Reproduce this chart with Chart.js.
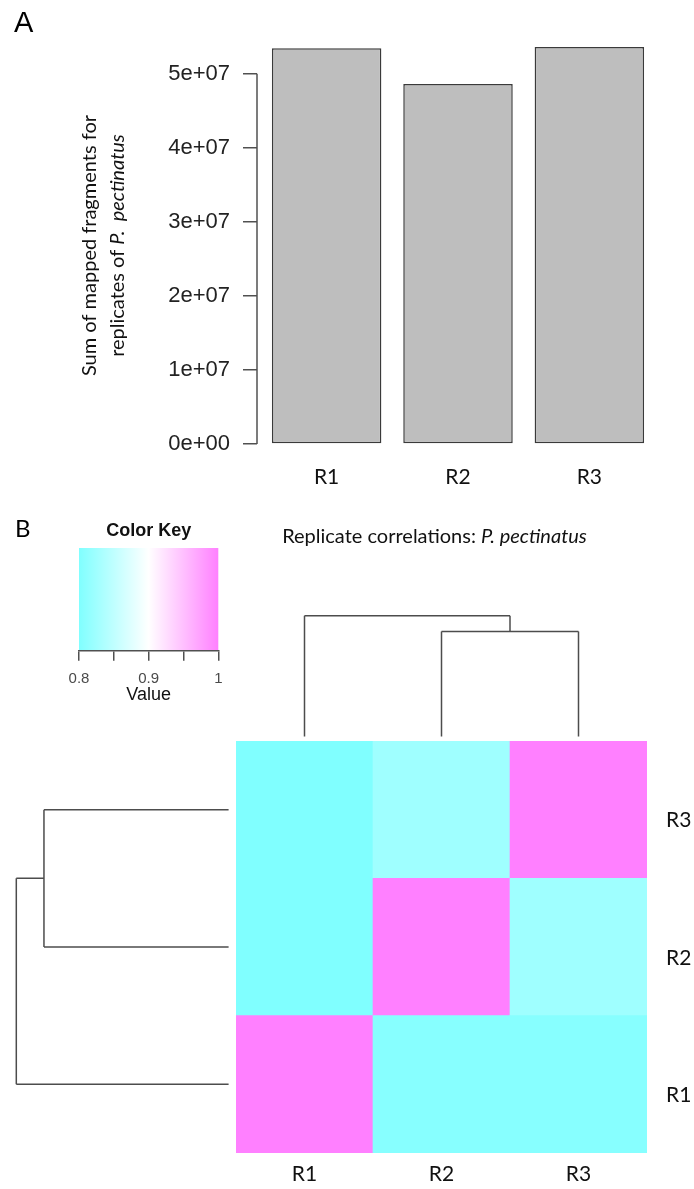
<!DOCTYPE html>
<html>
<head>
<meta charset="utf-8">
<script src="https://cdn.jsdelivr.net/npm/chart.js@4.4.1/dist/chart.umd.min.js"></script>
<style>
  html, body { margin: 0; padding: 0; background: #fff; }
  body { width: 694px; height: 1189px; position: relative; overflow: hidden; }
  canvas { position: absolute; }
  #bar-chart { left: 0; top: 0; }
  #heat-chart { left: 0; top: 500px; }
  #key-chart { left: 48px; top: 500px; }
</style>
</head>
<body>
<canvas id="bar-chart" width="694" height="500"></canvas>
<canvas id="heat-chart" width="694" height="689"></canvas>
<canvas id="key-chart" width="201" height="206"></canvas>
<script>
// ---- data ----
const replicates = ['R1', 'R2', 'R3'];
const fragments = [5.344e7, 4.862e7, 5.362e7];
const fragTicks = [0, 1e7, 2e7, 3e7, 4e7, 5e7];

// correlation cells, one array per heatmap row (bottom row first), columns R1..R3
const corrR1 = [1.000, 0.806, 0.806];
const corrR2 = [0.800, 1.000, 0.825];
const corrR3 = [0.800, 0.825, 1.000];

const keyMin = 0.8, keyMax = 1;
const keyTicks = [0.8, 0.85, 0.9, 0.95, 1];
const keyLabels = ['0.8', '', '0.9', '', '1'];

// clustering (same tree for rows and columns)
const merges = [
  { a: ['R2'], b: ['R3'], height: 0.247 },
  { a: ['R1'], b: ['R2', 'R3'], height: 0.284 },
];

const yTitleLines = [
  [{ text: 'Sum of mapped fragments for' }],
  [{ text: 'replicates of ' }, { text: 'P.  pectinatus', italic: true }],
];
const heatTitle = [{ text: 'Replicate correlations: ' }, { text: 'P. pectinatus', italic: true }];

// ---- helpers ----
const ARIAL = '"Liberation Sans", Arial, sans-serif';
const CALIBRI = 'Lato, "Open Sans", sans-serif';
const INK = '#111';
const AXIS = '#505050';

const eFmt = (v) => Number(v).toExponential(0).replace(/e([+-])(\d)$/, 'e$10$2');

function cmColor(v) {
  // R's cm.colors: cyan (s=.5) -> white -> magenta (s=.5)
  const t = Math.min(1, Math.max(0, (v - keyMin) / (keyMax - keyMin)));
  if (t < 0.5) {
    const s = 0.5 * (1 - 2 * t);
    return `rgb(${Math.round(255 * (1 - s))},255,255)`;
  }
  const s = 0.5 * (2 * t - 1);
  return `rgb(255,${Math.round(255 * (1 - s))},255)`;
}

function drawRich(ctx, parts, size, family) {
  const fonts = parts.map((p) => `${p.italic ? 'italic ' : ''}${size}px ${family}`);
  const widths = parts.map((p, i) => { ctx.font = fonts[i]; return ctx.measureText(p.text).width; });
  let x = -widths.reduce((a, b) => a + b, 0) / 2;
  ctx.textBaseline = 'middle';
  ctx.textAlign = 'left';
  parts.forEach((p, i) => { ctx.font = fonts[i]; ctx.fillText(p.text, x, 0); x += widths[i]; });
}

function dendroSegments(leafPix) {
  const nodes = {};
  replicates.forEach((r, i) => { nodes[r] = { pos: leafPix[i], h: 0 }; });
  const segs = [];
  merges.forEach((m) => {
    const A = nodes[m.a.join()], B = nodes[m.b.join()];
    segs.push([A.pos, A.h, A.pos, m.height], [B.pos, B.h, B.pos, m.height], [A.pos, m.height, B.pos, m.height]);
    nodes[m.a.concat(m.b).join()] = { pos: (A.pos + B.pos) / 2, h: m.height };
  });
  return segs;
}
const maxMerge = Math.max(...merges.map((m) => m.height));

// ---- A: bar chart ----
const barHalf = 0.5 / 1.2;
const xSpan = (replicates.length - 1) + 2 * barHalf;
const yTop = Math.max(...fragments);

const barDecor = {
  id: 'barDecor',
  afterDraw(chart) {
    const { ctx, chartArea, scales: { y } } = chart;
    ctx.save();
    ctx.strokeStyle = AXIS;
    ctx.lineWidth = 1.5;
    ctx.beginPath();
    ctx.moveTo(chartArea.left, y.getPixelForValue(fragTicks[0]));
    ctx.lineTo(chartArea.left, y.getPixelForValue(fragTicks[fragTicks.length - 1]));
    ctx.stroke();

    ctx.fillStyle = INK;
    const midY = (chartArea.top + chartArea.bottom) / 2;
    yTitleLines.forEach((line, i) => {
      ctx.save();
      ctx.translate(chartArea.left - 167 + i * 28, midY);
      ctx.rotate(-Math.PI / 2);
      drawRich(ctx, line, 20, CALIBRI);
      ctx.restore();
    });

    ctx.font = `29px ${ARIAL}`;
    ctx.textBaseline = 'alphabetic';
    ctx.fillStyle = '#000';
    ctx.fillText('A', 14, 32);
    ctx.restore();
  },
};

new Chart(document.getElementById('bar-chart'), {
  type: 'bar',
  data: {
    datasets: [{
      data: replicates.map((r, i) => ({ x: i, y: fragments[i] })),
      backgroundColor: '#bebebe',
      borderColor: '#3a3a3a',
      borderWidth: 1.5,
      borderSkipped: false,
      barPercentage: 1 / 1.2,
      categoryPercentage: 1,
    }],
  },
  options: {
    responsive: false,
    animation: false,
    events: [],
    layout: { padding: { left: 0, right: 35, top: 31, bottom: 0 } },
    plugins: { legend: { display: false }, tooltip: { enabled: false } },
    scales: {
      x: {
        type: 'linear',
        offset: false,
        min: -barHalf - 0.04 * xSpan,
        max: replicates.length - 1 + barHalf + 0.04 * xSpan,
        afterBuildTicks: (s) => { s.ticks = replicates.map((_, i) => ({ value: i })); },
        afterFit: (s) => { s.height = 40; },
        ticks: { callback: (v) => replicates[v], font: { family: CALIBRI, size: 21 }, color: INK, padding: 5, maxRotation: 0, autoSkip: false },
        grid: { display: false, drawTicks: false },
        border: { display: false },
      },
      y: {
        min: -0.04 * yTop,
        max: 1.04 * yTop,
        afterBuildTicks: (s) => { s.ticks = fragTicks.map((v) => ({ value: v })); },
        afterFit: (s) => { s.width = 257; },
        ticks: { callback: eFmt, font: { family: ARIAL, size: 22 }, color: '#222', padding: 13 },
        grid: { drawOnChartArea: false, tickLength: 14, color: AXIS, lineWidth: 1.5 },
        border: { display: false },
      },
    },
  },
  plugins: [barDecor],
});

// ---- B: heatmap ----
const corrRows = [corrR1, corrR2, corrR3];

const heatDecor = {
  id: 'heatDecor',
  afterDraw(chart) {
    const { ctx, chartArea, scales: { x, y } } = chart;
    ctx.save();
    ctx.strokeStyle = '#4d4d4d';
    ctx.lineWidth = 1.5;

    // column dendrogram
    const colBase = chartArea.top - 4.6, colSpan = 120.7;
    const colY = (h) => colBase - (h / maxMerge) * colSpan;
    ctx.beginPath();
    dendroSegments(replicates.map((_, i) => x.getPixelForValue(i))).forEach(([p1, h1, p2, h2]) => {
      ctx.moveTo(p1, colY(h1));
      ctx.lineTo(p2, colY(h2));
    });
    ctx.stroke();

    // row dendrogram
    const rowBase = chartArea.left - 7.4, rowSpan = 212.3;
    const rowX = (h) => rowBase - (h / maxMerge) * rowSpan;
    ctx.beginPath();
    dendroSegments(replicates.map((_, i) => y.getPixelForValue(i + 0.5))).forEach(([p1, h1, p2, h2]) => {
      ctx.moveTo(rowX(h1), p1);
      ctx.lineTo(rowX(h2), p2);
    });
    ctx.stroke();

    // title and panel letter
    ctx.fillStyle = INK;
    ctx.save();
    ctx.translate(434.5, 36.7);
    drawRich(ctx, heatTitle, 20, CALIBRI);
    ctx.restore();

    ctx.font = `24px ${CALIBRI}`;
    ctx.textBaseline = 'alphabetic';
    ctx.textAlign = 'left';
    ctx.fillStyle = '#000';
    ctx.fillText('B', 15, 37);
    ctx.restore();
  },
};

new Chart(document.getElementById('heat-chart'), {
  type: 'bar',
  data: {
    labels: replicates,
    datasets: corrRows.map((row, r) => ({
      label: replicates[r],
      data: row.map(() => 1),
      backgroundColor: row.map(cmColor),
      borderWidth: 0,
      barPercentage: 1,
      categoryPercentage: 1,
    })),
  },
  options: {
    responsive: false,
    animation: false,
    events: [],
    layout: { padding: { left: 236, right: 0, top: 241, bottom: 0 } },
    plugins: { legend: { display: false }, tooltip: { enabled: false } },
    scales: {
      x: {
        stacked: true,
        afterFit: (s) => { s.height = 36; },
        ticks: { font: { family: CALIBRI, size: 21 }, color: INK, padding: 9, maxRotation: 0 },
        grid: { display: false, drawTicks: false },
        border: { display: false },
      },
      y: { stacked: true, min: 0, max: replicates.length, display: false },
      y2: {
        type: 'category',
        axis: 'y',
        position: 'right',
        labels: replicates.slice().reverse(),
        offset: true,
        afterFit: (s) => { s.width = 47; },
        ticks: { font: { family: CALIBRI, size: 21 }, color: INK, padding: 19, labelOffset: 11 },
        grid: { display: false, drawTicks: false },
        border: { display: false },
      },
    },
  },
  plugins: [heatDecor],
});

// ---- colour key ----
const keyFill = {
  id: 'keyFill',
  beforeDraw(chart) {
    const { ctx, chartArea, scales: { x } } = chart;
    const x0 = x.getPixelForValue(keyMin), x1 = x.getPixelForValue(keyMax);
    const g = ctx.createLinearGradient(x0, 0, x1, 0);
    g.addColorStop(0, cmColor(keyMin));
    g.addColorStop(0.5, cmColor((keyMin + keyMax) / 2));
    g.addColorStop(1, cmColor(keyMax));
    ctx.save();
    ctx.fillStyle = g;
    ctx.fillRect(x0, chartArea.top, x1 - x0, chartArea.bottom - chartArea.top);
    ctx.restore();
  },
};

new Chart(document.getElementById('key-chart'), {
  type: 'scatter',
  data: { datasets: [] },
  options: {
    responsive: false,
    animation: false,
    events: [],
    layout: { padding: { left: 31, right: 30.7, top: 0, bottom: 0 } },
    plugins: {
      legend: { display: false },
      tooltip: { enabled: false },
      title: {
        display: true,
        text: 'Color Key',
        font: { family: ARIAL, size: 18, weight: 'bold' },
        color: INK,
        padding: { top: 20.2, bottom: 6.2 },
      },
    },
    scales: {
      x: {
        type: 'linear',
        min: keyMin,
        max: keyMax,
        afterBuildTicks: (s) => { s.ticks = keyTicks.map((v) => ({ value: v })); },
        afterFit: (s) => { s.height = 55.3; },
        ticks: { callback: (v, i) => keyLabels[i], font: { family: ARIAL, size: 15 }, color: '#4a4a4a', padding: 9.3, maxRotation: 0, autoSkip: false },
        grid: { drawOnChartArea: false, tickLength: 10, color: AXIS, lineWidth: 1.5 },
        border: { display: true, color: AXIS, width: 1.5 },
        title: { display: true, text: 'Value', font: { family: ARIAL, size: 18 }, color: INK, padding: 0 },
      },
      y: { display: false, min: 0, max: 1 },
    },
  },
  plugins: [keyFill],
});
</script>
</body>
</html>
